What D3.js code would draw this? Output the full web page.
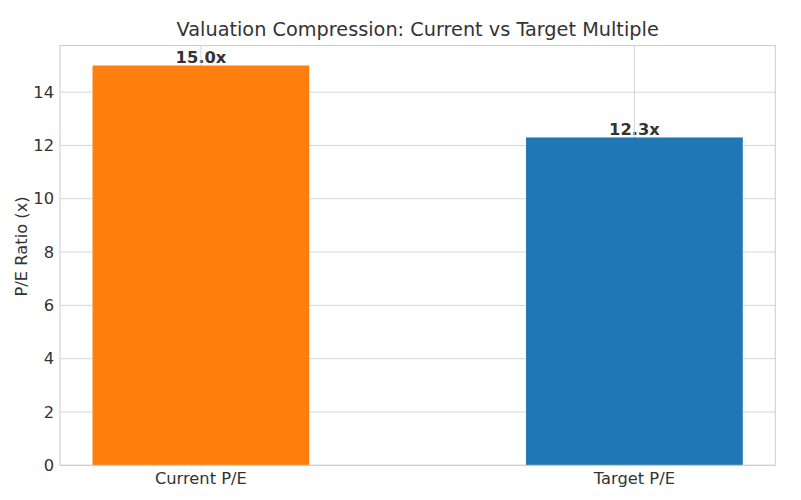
<!DOCTYPE html>
<html><head><meta charset="utf-8">
<script src="https://cdn.jsdelivr.net/npm/d3@7"></script>
<style>body{margin:0;background:#fff;} text{font-family:"DejaVu Sans",sans-serif;}</style>
</head><body><svg id="c" width="801" height="500"></svg>
<script>
const categories = ["Current P/E", "Target P/E"];
const values = [15.0, 12.3];
const barLabels = ["15.0x", "12.3x"];
const colors = ["#ff7f0e", "#1f77b4"];
const yTicks = [0, 2, 4, 6, 8, 10, 12, 14];

const svg = d3.select("#c");
const m = {left: 60, right: 775.3, top: 45.5, bottom: 465.3};
const x = d3.scaleLinear().domain([-0.325, 1.325]).range([m.left, m.right]);
const y = d3.scaleLinear().domain([0, 15.75]).range([m.bottom, m.top]);
const bw = 0.5;

// bar labels (drawn under grid, as in reference)
svg.append("g").selectAll("text").data(values).join("text")
  .attr("x", (d,i) => x(i)).attr("y", d => y(d) - 2.7)
  .attr("text-anchor", "middle").attr("font-size", 16.3).attr("font-weight", "bold").attr("fill", "#333")
  .text((d,i) => barLabels[i]);

// grid
svg.append("g").selectAll("line.h").data(yTicks).join("line")
  .attr("x1", m.left).attr("x2", m.right).attr("y1", d => y(d)).attr("y2", d => y(d))
  .attr("stroke", "#cccccc").attr("stroke-width", 0.8);
svg.append("g").selectAll("line.v").data(categories).join("line")
  .attr("x1", (d,i) => x(i)).attr("x2", (d,i) => x(i)).attr("y1", m.top).attr("y2", m.bottom)
  .attr("stroke", "#cccccc").attr("stroke-width", 0.8);

// bars
svg.append("g").selectAll("rect").data(values).join("rect")
  .attr("x", (d,i) => x(i - bw/2)).attr("width", (d,i) => x(i + bw/2) - x(i - bw/2))
  .attr("y", d => y(d)).attr("height", d => y(0) - y(d))
  .attr("fill", (d,i) => colors[i]);

// frame
svg.append("rect").attr("x", m.left).attr("y", m.top)
  .attr("width", m.right - m.left).attr("height", m.bottom - m.top)
  .attr("fill", "none").attr("stroke", "#cccccc").attr("stroke-width", 1);

// y ticks
svg.append("g").selectAll("text").data(yTicks).join("text")
  .attr("x", m.left - 6).attr("y", d => y(d)).attr("dy", "0.35em")
  .attr("text-anchor", "end").attr("font-size", 16.3).attr("fill", "#333")
  .text(d => d);

// x ticks
svg.append("g").selectAll("text").data(categories).join("text")
  .attr("x", (d,i) => x(i)).attr("y", m.bottom + 19)
  .attr("text-anchor", "middle").attr("font-size", 16.3).attr("fill", "#333")
  .text(d => d);

// y label
svg.append("text").attr("transform", `translate(26.5,${(m.top+m.bottom)/2 - 9}) rotate(-90)`)
  .attr("text-anchor", "middle").attr("font-size", 16.3).attr("fill", "#333")
  .text("P/E Ratio (x)");

// title
svg.append("text").attr("x", (m.left+m.right)/2).attr("y", 36)
  .attr("text-anchor", "middle").attr("font-size", 19.3).attr("fill", "#333")
  .text("Valuation Compression: Current vs Target Multiple");
</script></body></html>
